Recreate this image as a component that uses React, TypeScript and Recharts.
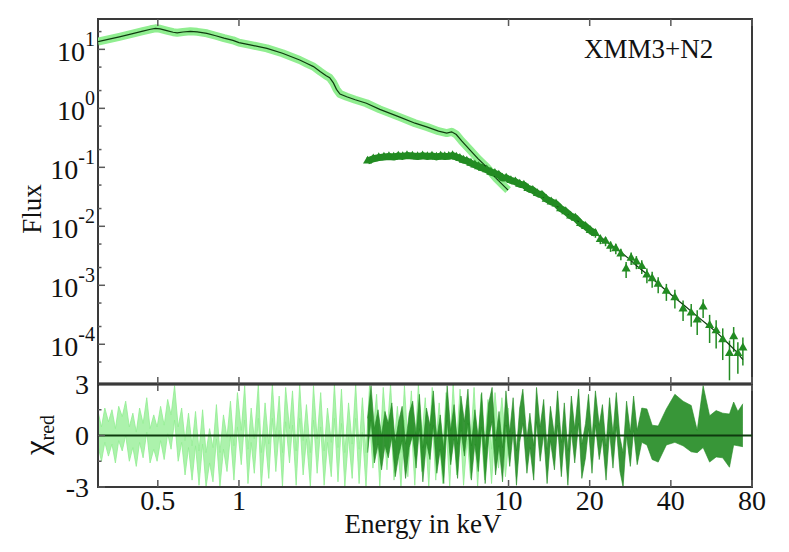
import React from "react";
import {
  Area,
  ComposedChart,
  ErrorBar,
  Line,
  ReferenceArea,
  ReferenceLine,
  Scatter,
  XAxis,
  YAxis,
  ZAxis
} from "recharts";

// XMM spectrum (keV, flux) – light green band + model line
const xmmCurveEnergy = [
  0.3, 0.33, 0.36, 0.4, 0.44, 0.47, 0.49, 0.51, 0.54, 0.57,
  0.59, 0.62, 0.66, 0.7, 0.76, 0.82, 0.88, 0.95, 1.0, 1.1,
  1.27, 1.45, 1.68, 1.78, 1.89, 2.0, 2.1, 2.17, 2.24, 2.3,
  2.37, 2.51, 2.7, 2.97, 3.33, 3.95, 4.5, 5.0, 5.5, 5.9,
  6.15, 6.4, 6.7, 7.2, 7.7, 8.28, 9.0, 9.96
];
const xmmCurveFlux = [
  13.5, 14.9, 16.3, 18.3, 20.4, 21.9, 22.7, 22.3, 20.8, 19.5,
  19.1, 19.7, 20.2, 19.8, 18.7, 17.0, 15.5, 14.2, 13.0, 11.9,
  10.4, 8.6, 6.6, 5.8, 5.1, 4.2, 3.6, 3.3, 2.7, 2.1,
  1.75, 1.57, 1.4, 1.22, 0.96, 0.71, 0.56, 0.48, 0.41, 0.38,
  0.4, 0.36, 0.28, 0.196, 0.14, 0.102, 0.065, 0.041
];

// NuSTAR points (keV, flux, relative error)
const nuEnergy = [
  3.0, 3.15, 3.3, 3.45, 3.6, 3.75, 3.9, 4.05, 4.2, 4.4,
  4.6, 4.8, 5.0, 5.2, 5.4, 5.6, 5.8, 6.0, 6.2, 6.4,
  6.6, 6.8, 7.0, 7.25, 7.5, 7.75, 8.0, 8.3, 8.6, 8.9,
  9.2, 9.5, 9.8, 10.2, 10.6, 11.0, 11.4, 11.8, 12.3, 12.8,
  13.3, 13.8, 14.4, 15.0, 15.6, 16.3, 17.0, 17.7, 18.5, 19.3,
  20.1, 21.0, 21.9, 22.9, 23.9, 25.0, 26.1, 27.3, 28.5, 29.8,
  31.2, 32.6, 34.1, 35.9, 38.5, 41.4, 44.4, 47.6, 50.1, 52.7,
  55.7, 58.9, 62.3, 66.0, 68.4, 70.9, 74.0
];
const nuFlux = [
  0.128, 0.14, 0.146, 0.15, 0.152, 0.149, 0.156, 0.153, 0.158, 0.155,
  0.152, 0.157, 0.153, 0.156, 0.15, 0.155, 0.152, 0.154, 0.158, 0.15,
  0.142, 0.133, 0.128, 0.118, 0.11, 0.103, 0.097, 0.091, 0.083, 0.079,
  0.074, 0.066, 0.066, 0.06, 0.057, 0.052, 0.05, 0.044, 0.041, 0.036,
  0.034, 0.029, 0.026, 0.024, 0.02, 0.0178, 0.015, 0.0138, 0.0112, 0.01,
  0.0085, 0.0076, 0.006, 0.0056, 0.0046, 0.0042, 0.0034, 0.0019, 0.0029, 0.0025,
  0.0021, 0.0015, 0.0013, 0.00105, 0.0008, 0.00062, 0.0004, 0.00034, 0.00026, 0.00043,
  0.00021, 0.00017, 0.00012, 0.00007, 0.000135, 0.00007, 0.000087
];
const nuRelErr = [
  0.03, 0.03, 0.03, 0.03, 0.03, 0.03, 0.03, 0.03, 0.03, 0.03,
  0.03, 0.03, 0.03, 0.03, 0.03, 0.03, 0.03, 0.03, 0.03, 0.03,
  0.035, 0.035, 0.035, 0.035, 0.035, 0.035, 0.035, 0.035, 0.035, 0.035,
  0.05, 0.05, 0.05, 0.06, 0.06, 0.06, 0.07, 0.07, 0.07, 0.08,
  0.08, 0.09, 0.09, 0.1, 0.1, 0.11, 0.12, 0.12, 0.13, 0.14,
  0.15, 0.16, 0.17, 0.18, 0.2, 0.2, 0.22, 0.3, 0.24, 0.25,
  0.26, 0.28, 0.3, 0.3, 0.32, 0.35, 0.38, 0.42, 0.45, 0.35,
  0.5, 0.5, 0.55, 0.65, 0.45, 0.55, 0.5
];

// NuSTAR model curve
const nuModelEnergy = [
  3.0, 3.5, 4.0, 5.0, 6.0, 6.4, 7.0, 8.0, 9.0, 10.0,
  11.0, 12.0, 14.0, 16.0, 18.0, 20.0, 22.0, 24.0, 26.0, 28.0,
  30.0, 33.0, 36.0, 40.0, 45.0, 50.0, 55.0, 60.0, 65.0, 70.0, 74.0
];
const nuModelFlux = [
  0.13, 0.148, 0.153, 0.155, 0.154, 0.15, 0.128, 0.097, 0.077, 0.063,
  0.052, 0.043, 0.028, 0.0185, 0.0125, 0.0088, 0.0065, 0.0048, 0.0037, 0.0028,
  0.0021, 0.00148, 0.00105, 0.0007, 0.00045, 0.0003, 0.00021, 0.00015, 0.000105, 0.000075, 0.000055
];

// XMM residuals (keV, chi)
const xmmResEnergy = [
  0.3, 0.309, 0.318, 0.328, 0.338, 0.348, 0.358, 0.369, 0.38, 0.392,
  0.404, 0.416, 0.428, 0.441, 0.455, 0.468, 0.483, 0.497, 0.512, 0.528,
  0.544, 0.56, 0.577, 0.595, 0.613, 0.631, 0.65, 0.67, 0.69, 0.711,
  0.733, 0.755, 0.778, 0.801, 0.825, 0.85, 0.876, 0.903, 0.93, 0.958,
  0.987, 1.02, 1.05, 1.08, 1.11, 1.14, 1.18, 1.21, 1.25, 1.29,
  1.33, 1.37, 1.41, 1.45, 1.49, 1.54, 1.58, 1.63, 1.68, 1.73,
  1.78, 1.84, 1.89, 1.95, 2.01, 2.07, 2.13, 2.2, 2.26, 2.33,
  2.4, 2.47, 2.55, 2.63, 2.71, 2.79, 2.87, 2.96, 3.05, 3.14,
  3.24, 3.33, 3.43, 3.54, 3.65, 3.76, 3.87, 3.99, 4.11, 4.23,
  4.36, 4.49, 4.63, 4.77, 4.91, 5.06, 5.21, 5.37, 5.53, 5.7,
  5.87, 6.05, 6.23, 6.42, 6.61, 6.81, 7.02, 7.23, 7.45, 7.68,
  7.91, 8.15, 8.39, 8.65, 8.91, 9.18, 9.45, 9.74, 10.0
];
const xmmRes = [
  0.4, -0.5, 0.6, -0.2, 0.5, -0.6, 0.7, 0.1, 1.0, -0.5,
  0.3, -0.8, 0.6, -0.3, 1.2, -0.6, 0.2, -0.5, 0.7, -0.4,
  1.1, 0.2, 1.9, -0.5, 0.6, -1.3, 0.3, -1.6, 0.4, -1.9,
  0.5, -2.0, -0.6, -1.7, 0.8, -2.0, 0.2, -1.1, 1.0, -1.6,
  1.5, -0.7, 1.9, -1.8, 0.6, -1.2, 2.0, -2.0, 0.9, -1.5,
  2.0, -1.1, 1.3, -2.0, 1.8, -0.6, 1.6, -1.9, 2.0, -1.3,
  0.8, -2.0, 1.9, -1.2, 1.5, -1.9, 0.6, -1.4, 2.0, -1.7,
  1.7, -2.0, 0.9, -1.5, 2.0, -1.8, 1.2, -2.0, 1.9, -0.9,
  1.4, -2.0, 1.8, -1.0, 2.0, -1.6, 0.7, -2.0, 1.9, -1.4,
  1.6, -1.9, 2.0, -1.1, 1.2, -2.0, 1.8, -1.6, 0.9, -1.8,
  1.5, -2.0, 2.0, -1.3, 1.7, -1.9, 0.8, -1.5, 1.8, -2.0,
  1.4, -1.6, 1.1, -1.8, 1.5, -0.9, 1.2, -1.4, 0.6
];
const XMM_RES_ERR = 1;

// NuSTAR residuals (keV, chi, error)
const nuResEnergy = [
  3.0, 3.09, 3.18, 3.28, 3.38, 3.48, 3.58, 3.69, 3.8, 3.91,
  4.03, 4.15, 4.28, 4.41, 4.54, 4.67, 4.81, 4.96, 5.11, 5.26,
  5.42, 5.58, 5.75, 5.92, 6.1, 6.28, 6.47, 6.66, 6.86, 7.07,
  7.28, 7.5, 7.72, 7.95, 8.19, 8.44, 8.69, 8.95, 9.22, 9.5,
  9.78, 10.1, 10.4, 10.7, 11.0, 11.3, 11.7, 12.0, 12.4, 12.7,
  13.1, 13.5, 13.9, 14.3, 14.8, 15.2, 15.7, 16.1, 16.6, 17.1,
  17.6, 18.2, 18.7, 19.3, 19.8, 20.4, 21.0, 21.7, 22.3, 23.0,
  23.7, 24.4, 25.1, 25.9, 26.6, 27.4, 28.3, 29.1, 30.0, 31.2,
  32.6, 34.1, 35.9, 38.5, 41.4, 44.4, 47.6, 50.1, 52.7, 55.7,
  58.9, 62.3, 66.0, 68.4, 70.9, 74.0
];
const nuRes = [
  0.0, 1.9, -0.6, 0.5, -1.0, 0.4, -0.3, 0.9, -1.4, -0.2,
  0.7, -1.5, 0.3, 1.0, -0.9, 1.4, -1.7, 0.6, -0.4, 1.6,
  -1.2, 0.2, -1.8, 1.9, -0.7, 0.8, -1.5, 1.3, -0.2, 1.7,
  -1.6, 0.5, -1.1, 1.5, -1.8, 0.9, 1.8, -1.3, 0.4, -1.7,
  1.6, -0.8, 1.2, -1.9, 0.6, 1.7, -1.2, 0.3, -1.6, 1.8,
  -0.5, 1.1, -1.8, 0.7, -1.0, 1.6, -1.4, 0.9, -1.9, 1.3,
  -0.6, 1.7, -1.5, -0.3, 1.4, -1.2, 1.6, -0.4, 0.8, -1.6,
  1.2, -0.9, 1.5, -1.1, -2.0, 1.0, -0.8, 1.3, -0.7, 0.6,
  0.5, -0.4, -0.5, 0.5, 1.0, 0.7, 0.4, -0.35, 1.1, -0.2,
  0.1, 0.0, -0.3, 0.7, 0.4, 0.6
];
const nuResErr = [
  1, 1, 1, 1, 1, 1, 1, 1, 1, 1,
  1, 1, 1, 1, 1, 1, 1, 1, 1, 1,
  1, 1, 1, 1, 1, 1, 1, 1, 1, 1,
  1, 1, 1, 1, 1, 1, 1, 1, 1, 1,
  1, 1, 1, 1, 1, 1, 1, 1, 1, 1,
  1, 1, 1, 1, 1, 1, 1, 1, 1, 1,
  1, 1, 1, 1, 1, 1, 1, 1, 1, 1,
  1, 1, 1, 1, 1, 1, 1, 1, 1, 1,
  1.05, 1, 1.05, 1.05, 1.4, 1.3, 1.35, 0.65, 1.8, 1.35,
  1.35, 1.3, 1.55, 1.25, 1.0, 1.25
];

const energyTicks = [0.5, 1, 10, 20, 40, 80];
const fluxMajor = [1e-4, 1e-3, 1e-2, 1e-1, 1, 10];
const fluxMinor = [5e-5, 2e-4, 5e-4, 2e-3, 5e-3, 2e-2, 5e-2, 0.2, 0.5, 2, 5, 20];
const chiTicks = [-3, -1.5, 0, 1.5, 3];

const X_DOMAIN: [number, number] = [0.3, 80];
const FLUX_DOMAIN: [number, number] = [2.12e-5, 32.7];
const CHI_DOMAIN: [number, number] = [-3, 3];
const NU_BAND_MAX_KEV = 21;

const LIGHT = "#90ee90";
const DARK = "#228b22";
const MODEL = "#0f3a0f";
const FRAME = "#3a3a3a";
const TICK = "#5a5a5a";
const FONT = '"Liberation Serif", "Times New Roman", serif';

const xmmCurve = xmmCurveEnergy.map((e, i) => ({ e, f: xmmCurveFlux[i] }));
const nuPoints = nuEnergy.map((e, i) => ({ e, f: nuFlux[i], err: nuFlux[i] * nuRelErr[i] }));
const nuBand = nuPoints.filter((p) => p.e <= NU_BAND_MAX_KEV);
const nuModel = nuModelEnergy.map((e, i) => ({ e, f: nuModelFlux[i] }));
const xmmResid = xmmResEnergy.map((e, i) => ({ e, band: [xmmRes[i] - XMM_RES_ERR, xmmRes[i] + XMM_RES_ERR] }));
const nuResid = nuResEnergy.map((e, i) => ({ e, band: [nuRes[i] - nuResErr[i], nuRes[i] + nuResErr[i]] }));

function xTick(dir: number, showLabel: boolean) {
  return (props: any) => {
    const { x, y, payload } = props;
    return (
      <g>
        <line x1={x} x2={x} y1={y} y2={y + dir * 7} stroke={TICK} strokeWidth={1.5} />
        {showLabel ? (
          <text x={x} y={y + 23} textAnchor="middle" fontFamily={FONT} fontSize={28} fill="#111">
            {payload.value}
          </text>
        ) : null}
      </g>
    );
  };
}

const fluxTick = (props: any) => {
  const { x, y, payload } = props;
  const v = payload.value;
  const major = fluxMajor.includes(v);
  const exp = Math.round(Math.log10(v));
  return (
    <g>
      <line x1={x} x2={x + (major ? 7 : 3.5)} y1={y} y2={y} stroke={TICK} strokeWidth={1.5} />
      {major ? (
        <text x={x - 3} y={y + 12} textAnchor="end" fontFamily={FONT} fontSize={28} fill="#111">
          10
          <tspan fontSize={20} dy={-15}>
            {exp}
          </tspan>
        </text>
      ) : null}
    </g>
  );
};

const chiTick = (props: any) => {
  const { x, y, payload } = props;
  const v = payload.value;
  const major = v === 0 || Math.abs(v) === 3;
  return (
    <g>
      <line x1={x} x2={x + (major ? 7 : 3.5)} y1={y} y2={y} stroke={TICK} strokeWidth={1.5} />
      {major ? (
        <text x={x - 9} y={y + 9.5} textAnchor="end" fontFamily={FONT} fontSize={28} fill="#111">
          {String(v)}
        </text>
      ) : null}
    </g>
  );
};

export default function App() {
  return (
    <div style={{ position: "absolute", left: 0, top: 0, width: 789, height: 552, background: "#fff" }}>
      <div style={{ position: "absolute", left: 0, top: 0 }}>
        <ComposedChart width={789} height={552} margin={{ top: 383, right: 37, bottom: 64, left: 97 }}>
          <XAxis xAxisId="b" type="number" dataKey="e" scale="log" domain={X_DOMAIN} allowDataOverflow
            ticks={energyTicks} interval={0} height={1} tickSize={0} tickMargin={0} axisLine={false} tick={xTick(-1, true)} />
          <XAxis xAxisId="t" orientation="top" type="number" dataKey="e" scale="log" domain={X_DOMAIN} allowDataOverflow
            ticks={energyTicks} interval={0} height={1} tickSize={0} tickMargin={0} axisLine={false} tick={xTick(1, false)} />
          <YAxis yAxisId="c" type="number" domain={CHI_DOMAIN} allowDataOverflow ticks={chiTicks} interval={0}
            width={1} tickSize={0} tickMargin={0} axisLine={false} tick={chiTick} />
          <Area xAxisId="b" yAxisId="c" data={xmmResid} dataKey="band" type="linear" fill={LIGHT} fillOpacity={0.75}
            stroke={LIGHT} strokeWidth={0.8} isAnimationActive={false} />
          <Area xAxisId="b" yAxisId="c" data={nuResid} dataKey="band" type="linear" fill={DARK} fillOpacity={0.9}
            stroke={DARK} strokeWidth={0.6} isAnimationActive={false} />
          <ReferenceLine xAxisId="b" yAxisId="c" y={0} stroke={MODEL} strokeWidth={2} />
          <ReferenceArea xAxisId="b" yAxisId="c" x1={X_DOMAIN[0]} x2={X_DOMAIN[1]} y1={CHI_DOMAIN[0]} y2={CHI_DOMAIN[1]}
            fill="none" fillOpacity={0} stroke={FRAME} strokeWidth={2} />
          <ReferenceLine xAxisId="b" yAxisId="c" y={3} stroke="#111" strokeWidth={3} />
        </ComposedChart>
      </div>
      <div style={{ position: "absolute", left: 0, top: 0 }}>
        <ComposedChart width={789} height={386} margin={{ top: 18, right: 37, bottom: 1, left: 97 }}>
          <XAxis xAxisId="b" type="number" dataKey="e" scale="log" domain={X_DOMAIN} allowDataOverflow
            ticks={energyTicks} interval={0} height={1} tickSize={0} tickMargin={0} axisLine={false} tick={xTick(-1, false)} />
          <XAxis xAxisId="t" orientation="top" type="number" dataKey="e" scale="log" domain={X_DOMAIN} allowDataOverflow
            ticks={energyTicks} interval={0} height={1} tickSize={0} tickMargin={0} axisLine={false} tick={xTick(1, false)} />
          <YAxis yAxisId="f" type="number" dataKey="f" scale="log" domain={FLUX_DOMAIN} allowDataOverflow
            ticks={[...fluxMajor, ...fluxMinor]} interval={0} width={1} tickSize={0} tickMargin={0} axisLine={false} tick={fluxTick} />
          <ZAxis range={[36, 36]} />
          <ReferenceArea xAxisId="b" yAxisId="f" x1={X_DOMAIN[0]} x2={X_DOMAIN[1]} y1={FLUX_DOMAIN[0]} y2={FLUX_DOMAIN[1]}
            fill="none" fillOpacity={0} stroke={FRAME} strokeWidth={2} />
          <Line xAxisId="b" yAxisId="f" data={xmmCurve} dataKey="f" type="linear" stroke={LIGHT} strokeWidth={8}
            strokeLinejoin="round" dot={false} isAnimationActive={false} />
          <Line xAxisId="b" yAxisId="f" data={nuBand} dataKey="f" type="linear" stroke={DARK} strokeWidth={7}
            strokeLinejoin="round" dot={false} isAnimationActive={false} />
          <Scatter xAxisId="b" yAxisId="f" data={nuPoints} dataKey="f" fill={DARK} shape="triangle" isAnimationActive={false}>
            <ErrorBar dataKey="err" direction="y" width={0} stroke={DARK} strokeWidth={1.5} isAnimationActive={false} />
          </Scatter>
          <Line xAxisId="b" yAxisId="f" data={xmmCurve} dataKey="f" type="linear" stroke={MODEL} strokeWidth={1.2}
            dot={false} isAnimationActive={false} />
          <Line xAxisId="b" yAxisId="f" data={nuModel} dataKey="f" type="linear" stroke={MODEL} strokeWidth={1.2}
            dot={false} isAnimationActive={false} />
        </ComposedChart>
      </div>
      <svg width={789} height={552} style={{ position: "absolute", left: 0, top: 0, pointerEvents: "none" }}>
        <text x={584} y={58} fontFamily={FONT} fontSize={27} fill="#111">XMM3+N2</text>
        <text transform="translate(41,209) rotate(-90)" textAnchor="middle" fontFamily={FONT} fontSize={27} fill="#111">
          Flux
        </text>
        <text transform="translate(47,435) rotate(-90)" textAnchor="middle" fontFamily={FONT} fontSize={33} fill="#111">
          χ<tspan fontSize={20} dy={7}>red</tspan>
        </text>
        <text x={423} y={533} textAnchor="middle" fontFamily={FONT} fontSize={27} fill="#111">
          Energy in keV
        </text>
      </svg>
    </div>
  );
}
